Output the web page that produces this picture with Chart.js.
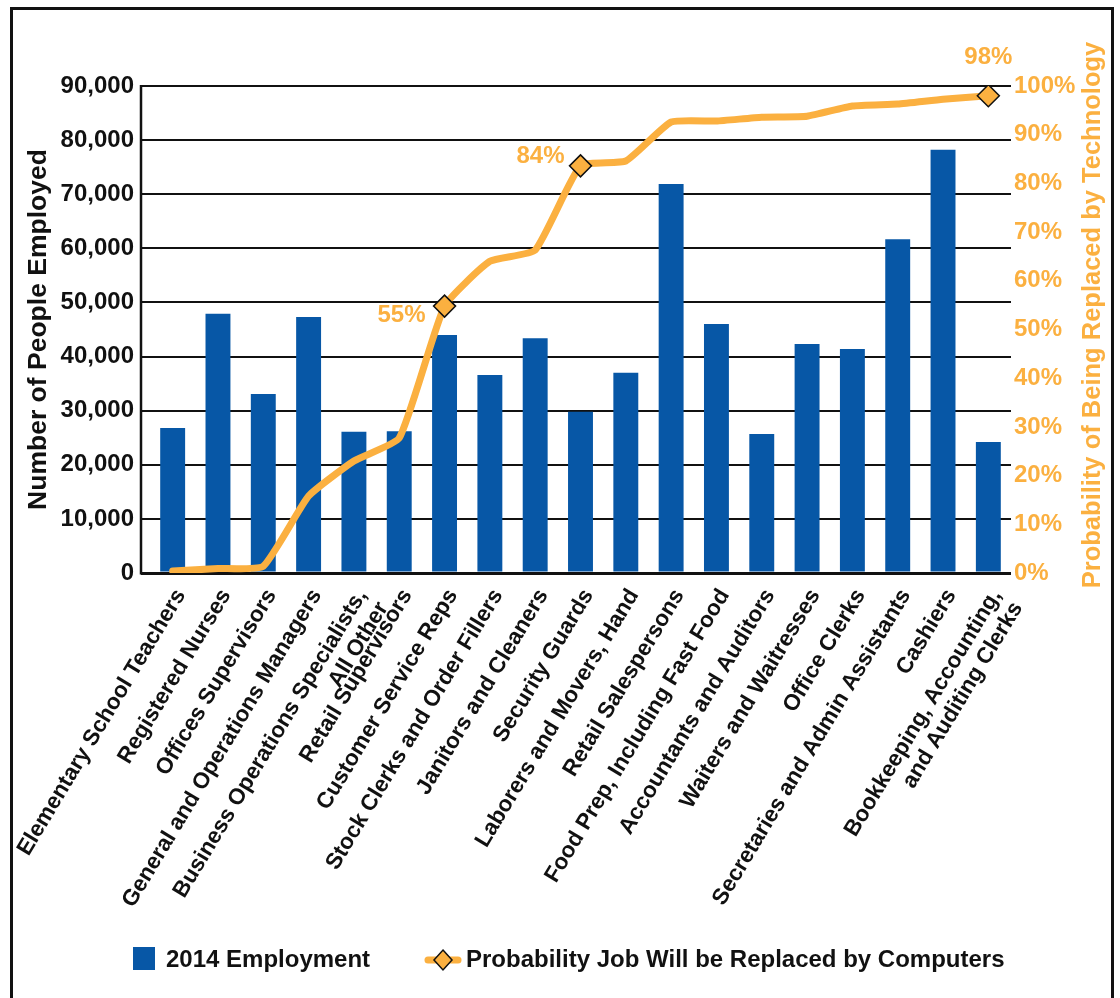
<!DOCTYPE html>
<html>
<head>
<meta charset="utf-8">
<script src="https://cdn.jsdelivr.net/npm/chart.js@4.4.1/dist/chart.umd.min.js"></script>
<style>
  html, body { margin: 0; padding: 0; background: #fff; }
  #wrap { position: relative; width: 1120px; height: 998px; }
</style>
</head>
<body>
<div id="wrap"><canvas id="jobs-chart" width="1120" height="998"></canvas></div>
<script>
const occupations = [
  'Elementary School Teachers',
  'Registered Nurses',
  'Offices Supervisors',
  'General and Operations Managers',
  ['Business Operations Specialists,', 'All Other'],
  'Retail Supervisors',
  'Customer Service Reps',
  'Stock Clerks and Order Fillers',
  'Janitors and Cleaners',
  'Security Guards',
  'Laborers and Movers, Hand',
  'Retail Salespersons',
  'Food Prep, Including Fast Food',
  'Accountants and Auditors',
  'Waiters and Waitresses',
  'Office Clerks',
  'Secretaries and Admin Assistants',
  'Cashiers',
  ['Bookkeeping, Accounting,', 'and Auditing Clerks'],
];

const employment2014 = [
  26800, 47900, 33100, 47300, 26100, 26200, 44000, 36600, 43400, 29800,
  37000, 71900, 46000, 25700, 42300, 41400, 61700, 78200, 24200,
];

const replaceProbability = [
  0.4, 0.9, 1.4, 15.8, 23, 27.7, 54.8, 64, 66.3, 83.6,
  84.6, 92.6, 92.8, 93.6, 93.8, 95.9, 96.3, 97.3, 98,
];

const markerIndexes = [6, 9, 18];
const markerLabels = ['55%', '84%', '98%'];

const leftTitle = 'Number of People Employed';
const rightTitle = 'Probability of Being Replaced by Technology';
const barLegend = '2014 Employment';
const lineLegend = 'Probability Job Will be Replaced by Computers';

const BLUE = '#0757a6';
const ORANGE = '#fbb040';
const FONT = '"Liberation Sans", Arial, Helvetica, sans-serif';

// frame, left axis line, right title, marker labels and legend
const extras = {
  id: 'extras',
  afterDatasetsDraw(chart) {
    const { ctx, chartArea } = chart;
    ctx.save();
    ctx.strokeStyle = '#111';
    ctx.lineWidth = 2.5;
    ctx.beginPath();
    ctx.moveTo(chartArea.left - 9, chartArea.top - 1);
    ctx.lineTo(chartArea.left - 9, chartArea.bottom + 1.5);
    ctx.stroke();

    // labels next to highlighted points
    const meta = chart.getDatasetMeta(0);
    const offsets = [
      { dx: -19, dy: 9, align: 'right' },
      { dx: -16, dy: -9, align: 'right' },
      { dx: 0, dy: -38, align: 'center' },
    ];
    ctx.fillStyle = ORANGE;
    ctx.font = 'bold 24px ' + FONT;
    ctx.textBaseline = 'middle';
    markerIndexes.forEach((idx, i) => {
      const p = meta.data[idx];
      ctx.textAlign = offsets[i].align;
      ctx.fillText(markerLabels[i], p.x + offsets[i].dx, p.y + offsets[i].dy);
    });
    ctx.restore();
  },
  afterDraw(chart) {
    const { ctx } = chart;
    ctx.save();
    ctx.strokeStyle = '#111';
    ctx.lineWidth = 3;
    ctx.strokeRect(11.5, 8.5, 1101, 1010);

    ctx.fillStyle = ORANGE;
    ctx.font = 'bold 25.5px ' + FONT;
    ctx.textAlign = 'center';
    ctx.textBaseline = 'middle';
    ctx.translate(1093, 315);
    ctx.rotate(-Math.PI / 2);
    ctx.fillText(rightTitle, 0, 0);
    ctx.restore();

    // legend
    ctx.save();
    ctx.fillStyle = BLUE;
    ctx.fillRect(133, 947, 22, 23);
    ctx.fillStyle = '#111';
    ctx.font = 'bold 24px ' + FONT;
    ctx.textBaseline = 'middle';
    ctx.textAlign = 'left';
    ctx.fillText(barLegend, 166, 960);

    ctx.strokeStyle = ORANGE;
    ctx.lineWidth = 7;
    ctx.lineCap = 'round';
    ctx.beginPath();
    ctx.moveTo(428, 960);
    ctx.lineTo(458, 960);
    ctx.stroke();
    ctx.beginPath();
    ctx.moveTo(443, 950);
    ctx.lineTo(452, 960);
    ctx.lineTo(443, 970);
    ctx.lineTo(434, 960);
    ctx.closePath();
    ctx.fillStyle = ORANGE;
    ctx.fill();
    ctx.lineWidth = 1.5;
    ctx.strokeStyle = '#111';
    ctx.stroke();

    ctx.fillStyle = '#111';
    ctx.fillText(lineLegend, 466, 960);
    ctx.restore();
  },
};

new Chart(document.getElementById('jobs-chart'), {
  data: {
    labels: occupations,
    datasets: [
      {
        type: 'line',
        label: lineLegend,
        data: replaceProbability,
        yAxisID: 'y1',
        order: 0,
        borderColor: ORANGE,
        borderWidth: 7,
        borderCapStyle: 'round',
        borderJoinStyle: 'round',
        tension: 0.15,
        pointStyle: 'rectRot',
        pointRadius: ctx => (markerIndexes.includes(ctx.dataIndex) ? 11 : 0),
        pointHoverRadius: ctx => (markerIndexes.includes(ctx.dataIndex) ? 11 : 0),
        pointBackgroundColor: ORANGE,
        pointBorderColor: '#111',
        pointBorderWidth: 1.5,
      },
      {
        type: 'bar',
        label: barLegend,
        data: employment2014,
        yAxisID: 'y',
        order: 1,
        backgroundColor: BLUE,
        categoryPercentage: 1,
        barPercentage: 0.55,
      },
    ],
  },
  options: {
    responsive: false,
    animation: false,
    devicePixelRatio: 1,
    layout: { padding: { top: 86, bottom: 0, left: 0, right: 0 } },
    plugins: {
      legend: { display: false },
      tooltip: { enabled: false },
    },
    scales: {
      x: {
        grid: { display: false },
        border: { display: false },
        ticks: {
          autoSkip: false,
          minRotation: 59,
          maxRotation: 59,
          padding: 4,
          labelOffset: 8,
          color: '#111',
          font: { family: FONT, size: 22.5, weight: 'bold', lineHeight: 1.1 },
        },
        afterFit: scale => { scale.height = 998 - 573; },
      },
      y: {
        position: 'left',
        min: 0,
        max: 90000,
        border: { display: false },
        grid: {
          color: '#111',
          lineWidth: ctx => (ctx.tick && ctx.tick.value === 0 ? 3 : 2),
          tickColor: '#111',
          tickLength: 9,
          tickWidth: ctx => (ctx.tick && ctx.tick.value === 0 ? 3 : 2),
        },
        ticks: {
          stepSize: 10000,
          padding: 7,
          color: '#111',
          font: { family: FONT, size: 24, weight: 'bold' },
          callback: v => v.toLocaleString('en-US'),
        },
        title: {
          display: true,
          text: leftTitle,
          color: '#111',
          padding: { top: 23, bottom: 0 },
          font: { family: FONT, size: 26.5, weight: 'bold' },
        },
        afterFit: scale => { scale.width = 150; },
      },
      y1: {
        position: 'right',
        min: 0,
        max: 100,
        border: { display: false },
        grid: { display: false, drawTicks: false, tickLength: 0 },
        ticks: {
          stepSize: 10,
          padding: 3,
          color: ORANGE,
          font: { family: FONT, size: 24, weight: 'bold' },
          callback: v => v + '%',
        },
        afterFit: scale => { scale.width = 109; },
      },
    },
  },
  plugins: [extras],
});
</script>
</body>
</html>
